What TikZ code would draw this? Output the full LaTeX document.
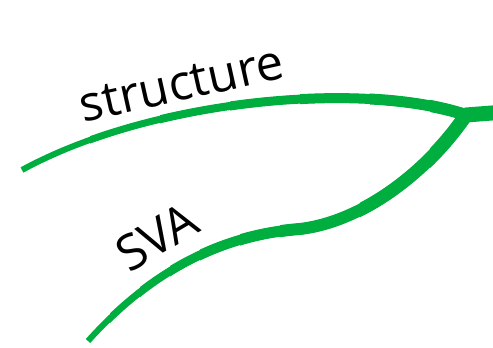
\documentclass[tikz,border=0pt]{standalone}
\usepackage{fontspec}
\setmainfont{Open Sans}
\definecolor{green9}{HTML}{00AE3F}

\begin{document}
\begin{tikzpicture}[x=1pt,y=-1pt]
\useasboundingbox (0,0) rectangle (493,348);
\coordinate (s0) at (22,170);
\coordinate (v0) at (88,341);
\coordinate (vm) at (300,229);
\coordinate (hub) at (466,115);
\coordinate (out) at (505,112);
% upper branch, wider to the right
\foreach \w/\x in {6/0,7/90,8/160,9/230,10/300,11/370,12/430} {
  \begin{scope}
  \clip (\x,0) rectangle (505,348);
  \draw [green9,line width=\w pt] (s0) .. controls (150,100) and (360,80) .. (hub);
  \end{scope}
}
% lower branch
\foreach \w/\x in {6/0,7/110,8/140,9/170,10/200,11/240,12/280,13/360,14/430} {
  \begin{scope}
  \clip (\x,0) rectangle (505,348);
  \draw [green9,line width=\w pt] (v0) .. controls (150,272) and (220,235) .. (vm)
    .. controls (360,222) and (425,175) .. (hub);
  \end{scope}
}
\draw [green9,line width=15pt,line cap=round] (hub) -- (out);
\node [rotate=12.6,anchor=base,font=\fontsize{49}{52}\selectfont] (structlabel) at (185,100) {structure};
\node [rotate=30.6,anchor=base,font=\fontsize{49}{52}\selectfont] (svalabel) at (166,252) {SVA};
\end{tikzpicture}
\end{document}
